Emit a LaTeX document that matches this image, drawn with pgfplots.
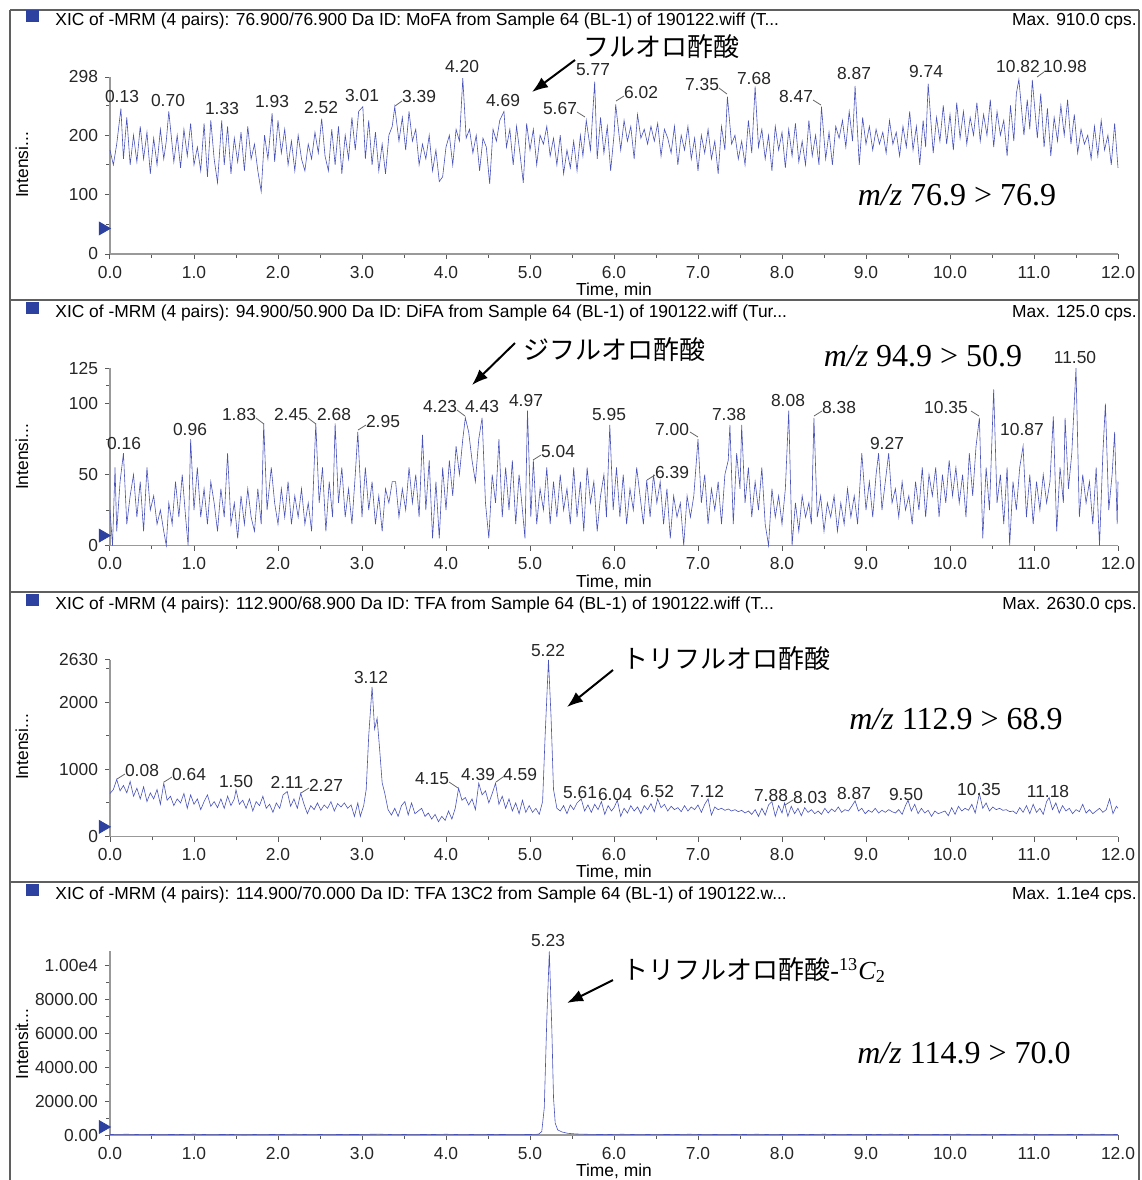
\documentclass[border=0pt]{standalone}
\usepackage{pgfplots}
\usepackage{pgfplotstable}
\pgfplotsset{compat=1.18}
\usetikzlibrary{arrows.meta}
\usepackage{fontspec}
\setmainfont{Liberation Sans}
\newfontfamily\jp{Noto Sans CJK JP}
\newfontfamily\tnr{Liberation Serif}
\definecolor{plotblue}{RGB}{72,82,185}
\definecolor{markblue}{RGB}{45,65,160}
\definecolor{framegray}{RGB}{95,95,95}
\newcommand\lblfont{\fontsize{8.7}{10}\selectfont}

\pgfplotstableread[row sep=\\]{x y\\
0.00 175\\ 0.04 150\\ 0.08 185\\ 0.13 245\\ 0.16 160\\ 0.20 230\\ 0.24 150\\ 0.28 200\\ 0.32 155\\ 0.36 215\\ 0.40 160\\ 0.44 205\\ 0.48 135\\ 0.52 195\\ 0.56 150\\ 0.60 210\\ 0.64 160\\ 0.67 190\\ 0.70 240\\ 0.76 155\\ 0.80 200\\ 0.84 145\\ 0.88 210\\ 0.92 165\\ 0.96 220\\
1.00 150\\ 1.04 180\\ 1.08 140\\ 1.12 220\\ 1.16 130\\ 1.20 225\\ 1.24 160\\ 1.28 120\\ 1.33 225\\ 1.36 150\\ 1.40 215\\ 1.44 135\\ 1.48 195\\ 1.52 155\\ 1.56 205\\ 1.60 140\\ 1.64 215\\ 1.68 160\\ 1.72 185\\ 1.76 140\\ 1.80 105\\ 1.84 200\\ 1.88 160\\ 1.93 237\\ 1.96 155\\
2.00 225\\ 2.04 170\\ 2.08 210\\ 2.12 150\\ 2.16 190\\ 2.20 140\\ 2.24 200\\ 2.28 160\\ 2.32 140\\ 2.36 185\\ 2.40 160\\ 2.44 205\\ 2.48 170\\ 2.52 228\\ 2.56 165\\ 2.60 140\\ 2.64 210\\ 2.68 150\\ 2.72 215\\ 2.76 135\\ 2.80 200\\ 2.84 160\\ 2.88 230\\ 2.92 175\\ 2.96 240\\
3.01 248\\ 3.04 160\\ 3.08 225\\ 3.12 150\\ 3.16 205\\ 3.20 140\\ 3.24 185\\ 3.28 135\\ 3.32 200\\ 3.36 215\\ 3.39 248\\ 3.44 190\\ 3.48 230\\ 3.52 175\\ 3.56 240\\ 3.60 190\\ 3.64 210\\ 3.68 150\\ 3.72 185\\ 3.76 160\\ 3.80 200\\ 3.84 140\\ 3.88 175\\ 3.92 122\\ 3.96 130\\
4.00 180\\ 4.04 200\\ 4.08 150\\ 4.12 210\\ 4.16 190\\ 4.20 296\\ 4.24 195\\ 4.28 210\\ 4.32 170\\ 4.36 200\\ 4.40 140\\ 4.44 195\\ 4.48 180\\ 4.52 118\\ 4.56 210\\ 4.60 190\\ 4.64 225\\ 4.69 240\\ 4.72 180\\ 4.76 210\\ 4.80 150\\ 4.84 215\\ 4.88 170\\ 4.92 120\\ 4.96 220\\
5.00 175\\ 5.04 210\\ 5.08 150\\ 5.12 200\\ 5.16 185\\ 5.20 215\\ 5.24 165\\ 5.28 195\\ 5.32 150\\ 5.36 200\\ 5.40 135\\ 5.44 175\\ 5.48 145\\ 5.52 190\\ 5.56 140\\ 5.60 200\\ 5.63 165\\ 5.67 225\\ 5.72 175\\ 5.77 290\\ 5.80 160\\ 5.84 230\\ 5.88 170\\ 5.92 215\\ 5.96 140\\
6.00 200\\ 6.02 252\\ 6.08 175\\ 6.12 225\\ 6.16 190\\ 6.20 215\\ 6.24 160\\ 6.28 235\\ 6.32 195\\ 6.36 210\\ 6.40 185\\ 6.44 215\\ 6.48 190\\ 6.52 220\\ 6.56 165\\ 6.60 210\\ 6.64 195\\ 6.68 170\\ 6.72 215\\ 6.76 150\\ 6.80 200\\ 6.84 175\\ 6.88 215\\ 6.92 160\\ 6.96 195\\
7.00 140\\ 7.04 200\\ 7.08 170\\ 7.12 210\\ 7.16 160\\ 7.20 190\\ 7.24 135\\ 7.28 215\\ 7.32 175\\ 7.35 265\\ 7.40 185\\ 7.44 200\\ 7.48 160\\ 7.52 190\\ 7.56 150\\ 7.60 225\\ 7.64 170\\ 7.68 282\\ 7.72 180\\ 7.76 210\\ 7.80 160\\ 7.84 200\\ 7.88 140\\ 7.92 215\\ 7.96 175\\
8.00 205\\ 8.04 145\\ 8.08 210\\ 8.12 165\\ 8.16 220\\ 8.20 155\\ 8.24 190\\ 8.28 150\\ 8.32 225\\ 8.36 165\\ 8.40 200\\ 8.44 150\\ 8.47 248\\ 8.52 160\\ 8.56 205\\ 8.60 150\\ 8.64 215\\ 8.68 195\\ 8.72 225\\ 8.76 180\\ 8.80 240\\ 8.84 190\\ 8.87 283\\ 8.92 150\\ 8.96 230\\
9.00 185\\ 9.04 215\\ 9.08 175\\ 9.12 210\\ 9.16 185\\ 9.20 205\\ 9.24 170\\ 9.28 225\\ 9.32 185\\ 9.36 205\\ 9.40 165\\ 9.44 215\\ 9.48 180\\ 9.52 240\\ 9.56 175\\ 9.60 215\\ 9.64 150\\ 9.68 225\\ 9.71 180\\ 9.74 287\\ 9.80 170\\ 9.84 230\\ 9.88 190\\ 9.92 250\\ 9.96 185\\
10.00 235\\ 10.04 175\\ 10.08 255\\ 10.12 195\\ 10.16 240\\ 10.20 185\\ 10.24 230\\ 10.28 200\\ 10.32 255\\ 10.36 190\\ 10.40 235\\ 10.44 200\\ 10.48 260\\ 10.52 180\\ 10.56 240\\ 10.60 200\\ 10.64 225\\ 10.68 165\\ 10.72 250\\ 10.76 190\\ 10.79 270\\ 10.82 294\\ 10.88 200\\ 10.92 260\\ 10.95 210\\
10.98 293\\ 11.04 195\\ 11.08 270\\ 11.12 180\\ 11.16 245\\ 11.20 165\\ 11.24 230\\ 11.28 190\\ 11.32 250\\ 11.36 200\\ 11.40 260\\ 11.44 185\\ 11.48 235\\ 11.52 170\\ 11.56 210\\ 11.60 185\\ 11.64 200\\ 11.68 160\\ 11.72 215\\ 11.76 165\\ 11.80 225\\ 11.84 175\\ 11.88 200\\ 11.92 150\\ 11.96 220\\ 12.00 145\\
}\mofa

\pgfplotstableread[row sep=\\]{x y\\
0.00 25\\ 0.03 0\\ 0.06 55\\ 0.08 10\\ 0.12 45\\ 0.16 65\\ 0.20 15\\ 0.24 35\\ 0.28 50\\ 0.32 20\\ 0.36 45\\ 0.40 10\\ 0.44 55\\ 0.48 25\\ 0.52 35\\ 0.56 15\\ 0.60 25\\ 0.64 10\\ 0.67 0\\ 0.70 30\\ 0.74 15\\ 0.78 45\\ 0.82 20\\ 0.86 50\\ 0.90 20\\ 0.93 0\\ 0.96 75\\
1.00 25\\ 1.04 55\\ 1.08 20\\ 1.12 40\\ 1.16 15\\ 1.20 45\\ 1.24 30\\ 1.28 10\\ 1.32 40\\ 1.36 20\\ 1.40 65\\ 1.44 15\\ 1.48 30\\ 1.52 5\\ 1.56 35\\ 1.60 15\\ 1.64 40\\ 1.68 20\\ 1.72 10\\ 1.76 40\\ 1.80 15\\ 1.83 86\\ 1.87 25\\ 1.92 55\\ 1.96 30\\
2.00 15\\ 2.04 40\\ 2.08 20\\ 2.12 45\\ 2.16 15\\ 2.20 35\\ 2.24 20\\ 2.28 40\\ 2.32 15\\ 2.36 30\\ 2.40 10\\ 2.45 86\\ 2.49 30\\ 2.53 55\\ 2.57 10\\ 2.61 45\\ 2.65 20\\ 2.68 86\\ 2.72 30\\ 2.76 55\\ 2.80 20\\ 2.84 40\\ 2.88 15\\ 2.92 50\\ 2.95 80\\
3.00 20\\ 3.04 55\\ 3.08 25\\ 3.12 45\\ 3.16 15\\ 3.20 35\\ 3.24 10\\ 3.28 40\\ 3.32 30\\ 3.36 45\\ 3.40 45\\ 3.44 20\\ 3.48 40\\ 3.52 25\\ 3.56 55\\ 3.60 30\\ 3.64 50\\ 3.68 20\\ 3.72 78\\ 3.76 25\\ 3.80 60\\ 3.84 5\\ 3.88 45\\ 3.92 5\\ 3.96 55\\
4.00 25\\ 4.04 60\\ 4.08 35\\ 4.12 70\\ 4.16 50\\ 4.20 75\\ 4.23 90\\ 4.27 80\\ 4.31 60\\ 4.35 45\\ 4.39 75\\ 4.43 90\\ 4.47 30\\ 4.51 5\\ 4.55 50\\ 4.59 30\\ 4.63 75\\ 4.67 20\\ 4.71 55\\ 4.75 25\\ 4.79 60\\ 4.83 15\\ 4.87 50\\ 4.91 25\\ 4.94 5\\ 4.97 95\\
5.01 20\\ 5.04 60\\ 5.08 15\\ 5.12 40\\ 5.16 25\\ 5.20 55\\ 5.24 15\\ 5.28 45\\ 5.32 20\\ 5.36 50\\ 5.40 25\\ 5.44 40\\ 5.48 15\\ 5.52 55\\ 5.56 20\\ 5.60 45\\ 5.64 10\\ 5.68 55\\ 5.72 30\\ 5.76 45\\ 5.80 10\\ 5.84 35\\ 5.88 50\\ 5.91 20\\ 5.95 85\\
5.99 25\\ 6.03 55\\ 6.07 20\\ 6.11 50\\ 6.15 15\\ 6.19 40\\ 6.23 25\\ 6.27 55\\ 6.31 35\\ 6.35 15\\ 6.39 46\\ 6.43 20\\ 6.47 50\\ 6.51 30\\ 6.55 45\\ 6.59 15\\ 6.63 40\\ 6.67 5\\ 6.71 35\\ 6.75 20\\ 6.79 30\\ 6.83 0\\ 6.87 35\\ 6.91 20\\ 6.95 35\\ 7.00 75\\
7.04 30\\ 7.08 50\\ 7.12 15\\ 7.16 40\\ 7.20 25\\ 7.24 45\\ 7.28 15\\ 7.32 50\\ 7.36 60\\ 7.38 85\\ 7.42 15\\ 7.46 65\\ 7.50 40\\ 7.52 85\\ 7.56 30\\ 7.60 55\\ 7.64 20\\ 7.68 45\\ 7.72 25\\ 7.76 55\\ 7.80 15\\ 7.84 0\\ 7.88 40\\ 7.92 20\\ 7.96 35\\
8.00 15\\ 8.04 40\\ 8.08 95\\ 8.12 0\\ 8.16 30\\ 8.20 10\\ 8.24 35\\ 8.28 20\\ 8.32 30\\ 8.35 15\\ 8.38 90\\ 8.42 20\\ 8.46 35\\ 8.50 10\\ 8.54 30\\ 8.58 20\\ 8.62 35\\ 8.66 10\\ 8.70 30\\ 8.74 15\\ 8.78 40\\ 8.82 20\\ 8.86 35\\ 8.90 15\\ 8.95 65\\
9.00 25\\ 9.04 45\\ 9.08 20\\ 9.12 50\\ 9.15 65\\ 9.19 25\\ 9.23 45\\ 9.27 65\\ 9.31 30\\ 9.35 40\\ 9.39 20\\ 9.43 45\\ 9.47 25\\ 9.51 35\\ 9.55 15\\ 9.59 45\\ 9.63 25\\ 9.67 55\\ 9.71 20\\ 9.75 50\\ 9.79 35\\ 9.83 55\\ 9.87 20\\ 9.91 50\\ 9.95 30\\
9.99 60\\ 10.03 35\\ 10.07 55\\ 10.11 30\\ 10.15 50\\ 10.19 20\\ 10.23 65\\ 10.27 35\\ 10.31 70\\ 10.35 90\\ 10.39 5\\ 10.43 55\\ 10.47 25\\ 10.52 110\\ 10.56 30\\ 10.60 50\\ 10.64 15\\ 10.68 55\\ 10.71 0\\ 10.75 45\\ 10.79 25\\ 10.83 55\\ 10.87 70\\ 10.91 20\\ 10.95 50\\
10.99 15\\ 11.03 45\\ 11.07 25\\ 11.11 50\\ 11.15 30\\ 11.19 45\\ 11.23 91\\ 11.27 10\\ 11.31 55\\ 11.35 30\\ 11.37 90\\ 11.41 40\\ 11.45 65\\ 11.50 125\\ 11.54 20\\ 11.58 50\\ 11.62 30\\ 11.66 45\\ 11.70 15\\ 11.74 55\\ 11.78 0\\ 11.82 65\\ 11.85 100\\ 11.89 25\\ 11.93 50\\ 11.96 80\\ 11.99 15\\ 12.00 45\\
}\difa

\pgfplotstableread[row sep=\\]{x y\\
0.00 640\\ 0.04 700\\ 0.08 850\\ 0.12 680\\ 0.16 760\\ 0.20 650\\ 0.24 820\\ 0.28 600\\ 0.32 720\\ 0.36 560\\ 0.40 740\\ 0.44 520\\ 0.48 650\\ 0.52 560\\ 0.56 700\\ 0.60 480\\ 0.64 794\\ 0.68 540\\ 0.72 600\\ 0.76 460\\ 0.80 560\\ 0.84 500\\ 0.88 640\\ 0.92 420\\ 0.96 620\\
1.00 480\\ 1.04 560\\ 1.08 400\\ 1.12 520\\ 1.16 620\\ 1.20 450\\ 1.24 520\\ 1.28 430\\ 1.32 560\\ 1.36 420\\ 1.40 600\\ 1.44 460\\ 1.48 560\\ 1.50 695\\ 1.54 480\\ 1.58 540\\ 1.62 420\\ 1.66 560\\ 1.70 380\\ 1.74 520\\ 1.78 460\\ 1.82 600\\ 1.86 420\\ 1.90 480\\ 1.94 360\\
1.98 500\\ 2.02 420\\ 2.06 620\\ 2.11 670\\ 2.15 450\\ 2.19 560\\ 2.23 420\\ 2.27 645\\ 2.31 480\\ 2.35 340\\ 2.39 460\\ 2.43 400\\ 2.47 500\\ 2.51 390\\ 2.55 470\\ 2.59 420\\ 2.63 520\\ 2.67 380\\ 2.71 490\\ 2.75 440\\ 2.79 500\\ 2.83 420\\ 2.87 470\\ 2.91 300\\ 2.95 500\\
2.98 300\\ 3.02 460\\ 3.05 700\\ 3.08 1500\\ 3.12 2230\\ 3.15 1600\\ 3.18 1760\\ 3.21 1300\\ 3.24 800\\ 3.27 650\\ 3.31 400\\ 3.35 320\\ 3.39 420\\ 3.43 300\\ 3.47 460\\ 3.51 520\\ 3.55 320\\ 3.59 500\\ 3.63 340\\ 3.67 380\\ 3.71 420\\ 3.75 300\\ 3.79 350\\ 3.83 260\\ 3.87 330\\ 3.91 220\\
3.95 300\\ 3.99 240\\ 4.03 380\\ 4.07 260\\ 4.11 420\\ 4.15 720\\ 4.19 540\\ 4.23 580\\ 4.27 470\\ 4.31 560\\ 4.35 400\\ 4.39 794\\ 4.43 620\\ 4.47 680\\ 4.51 500\\ 4.55 640\\ 4.59 794\\ 4.63 480\\ 4.67 600\\ 4.71 420\\ 4.75 560\\ 4.79 380\\ 4.83 500\\ 4.87 340\\ 4.91 540\\ 4.95 360\\
4.99 460\\ 5.03 360\\ 5.07 420\\ 5.11 330\\ 5.15 520\\ 5.18 1500\\ 5.22 2630\\ 5.25 1800\\ 5.28 700\\ 5.32 420\\ 5.36 380\\ 5.40 460\\ 5.44 340\\ 5.48 470\\ 5.52 400\\ 5.56 500\\ 5.61 560\\ 5.65 380\\ 5.69 470\\ 5.73 360\\ 5.77 480\\ 5.81 400\\ 5.85 520\\ 5.89 330\\ 5.93 460\\
5.97 380\\ 6.00 430\\ 6.04 540\\ 6.08 300\\ 6.12 420\\ 6.16 350\\ 6.20 460\\ 6.24 380\\ 6.28 440\\ 6.32 340\\ 6.36 460\\ 6.40 400\\ 6.44 490\\ 6.48 370\\ 6.52 560\\ 6.56 430\\ 6.60 480\\ 6.64 380\\ 6.68 450\\ 6.72 400\\ 6.76 430\\ 6.80 370\\ 6.84 460\\ 6.88 380\\ 6.92 440\\
6.96 400\\ 7.00 470\\ 7.04 360\\ 7.08 480\\ 7.12 560\\ 7.16 320\\ 7.20 440\\ 7.24 400\\ 7.28 420\\ 7.32 390\\ 7.36 410\\ 7.40 380\\ 7.44 400\\ 7.48 370\\ 7.52 390\\ 7.56 350\\ 7.60 380\\ 7.64 330\\ 7.68 400\\ 7.72 300\\ 7.76 420\\ 7.80 320\\ 7.84 470\\ 7.88 520\\ 7.92 300\\
7.96 460\\ 8.00 350\\ 8.03 500\\ 8.07 300\\ 8.11 450\\ 8.15 340\\ 8.19 420\\ 8.23 310\\ 8.27 430\\ 8.31 360\\ 8.35 400\\ 8.39 340\\ 8.43 380\\ 8.47 330\\ 8.51 420\\ 8.55 350\\ 8.59 410\\ 8.63 370\\ 8.67 440\\ 8.71 360\\ 8.75 400\\ 8.79 380\\ 8.83 450\\ 8.87 530\\ 8.91 380\\
8.95 420\\ 8.99 340\\ 9.03 390\\ 9.07 360\\ 9.11 420\\ 9.15 350\\ 9.19 390\\ 9.23 360\\ 9.27 400\\ 9.31 370\\ 9.35 350\\ 9.39 400\\ 9.43 330\\ 9.47 460\\ 9.50 540\\ 9.54 380\\ 9.58 480\\ 9.62 340\\ 9.66 420\\ 9.70 350\\ 9.74 390\\ 9.78 300\\ 9.82 380\\ 9.86 340\\ 9.90 360\\
9.94 380\\ 9.98 310\\ 10.02 430\\ 10.06 330\\ 10.10 450\\ 10.14 380\\ 10.18 420\\ 10.22 390\\ 10.26 480\\ 10.30 350\\ 10.35 640\\ 10.39 420\\ 10.43 500\\ 10.47 380\\ 10.51 440\\ 10.55 400\\ 10.59 420\\ 10.63 390\\ 10.67 400\\ 10.71 370\\ 10.75 380\\ 10.79 340\\ 10.83 430\\ 10.87 360\\ 10.91 460\\
10.95 340\\ 10.99 480\\ 11.03 360\\ 11.07 420\\ 11.11 330\\ 11.15 520\\ 11.18 580\\ 11.22 400\\ 11.26 500\\ 11.30 350\\ 11.34 460\\ 11.38 380\\ 11.42 420\\ 11.46 340\\ 11.50 400\\ 11.54 370\\ 11.58 480\\ 11.62 350\\ 11.66 400\\ 11.70 340\\ 11.74 380\\ 11.78 420\\ 11.82 360\\ 11.86 400\\ 11.90 560\\ 11.94 340\\ 11.98 450\\ 12.00 420\\
}\tfa

\pgfplotstableread[row sep=\\]{x y\\
0.00 30\\ 0.20 45\\ 0.40 20\\ 0.60 40\\ 0.80 25\\ 1.00 45\\ 1.20 20\\ 1.40 35\\ 1.60 15\\ 1.80 40\\ 2.00 25\\ 2.20 45\\ 2.40 20\\ 2.60 40\\ 2.80 25\\ 3.00 35\\ 3.20 50\\ 3.40 20\\ 3.60 40\\ 3.80 25\\ 4.00 45\\ 4.20 20\\ 4.40 40\\ 4.60 25\\ 4.80 40\\ 5.00 30\\ 5.10 45\\ 5.14 200\\ 5.17 1600\\ 5.20 6800\\ 5.23 10800\\ 5.26 6200\\ 5.28 2200\\ 5.30 700\\ 5.33 300\\ 5.38 180\\ 5.45 100\\ 5.55 60\\ 5.70 40\\ 5.90 25\\ 6.10 45\\ 6.30 20\\ 6.50 40\\ 6.70 25\\ 6.90 45\\ 7.10 20\\ 7.30 40\\ 7.50 25\\ 7.70 45\\ 7.90 20\\ 8.10 40\\ 8.30 25\\ 8.50 45\\ 8.70 20\\ 8.90 40\\ 9.10 25\\ 9.30 45\\ 9.50 20\\ 9.70 40\\ 9.90 25\\ 10.10 45\\ 10.30 20\\ 10.50 40\\ 10.70 25\\ 10.90 45\\ 11.10 20\\ 11.30 40\\ 11.50 25\\ 11.70 45\\ 11.90 20\\ 12.00 35\\
}\tfac

\pgfplotsset{chrom/.style={
  scale only axis, width=504pt, anchor=south west,
  xmin=0, xmax=12, ymin=0,
  axis x line=bottom, axis y line=left,
  axis line style={-, draw=black!40, line width=0.8pt},
  tick align=outside, major tick length=2.5pt, minor tick length=1.8pt,
  tick style={draw=black!65, line width=0.5pt},
  xtick={0,1,2,3,4,5,6,7,8,9,10,11,12},
  xticklabels={0.0,1.0,2.0,3.0,4.0,5.0,6.0,7.0,8.0,9.0,10.0,11.0,12.0},
  minor xtick={0.5,1.5,2.5,3.5,4.5,5.5,6.5,7.5,8.5,9.5,10.5,11.5},
  tick label style={font=\lblfont, text=black!85},
  scaled y ticks=false, scaled x ticks=false,
  clip=false,
}}
\newcommand\pk[3]{\node[font=\lblfont, text=black!85, inner sep=0pt] at (#1,#2) {#3};}
\newcommand\ldr[4]{\draw[black!60, line width=0.4pt] (#1,#2) -- (#3,#4);}
\newcommand\trimark[1]{\addplot[only marks, mark=triangle*, mark size=3.7pt, mark options={rotate=-90, fill=markblue, draw=markblue}] coordinates {(-0.085,#1)};}

\begin{document}
\begin{tikzpicture}
\path[use as bounding box] (0,0) rectangle (571pt,-590pt);

\begin{axis}[chrom, at={(55pt,-127pt)}, height=88.5pt, ymax=298,
  ytick={0,100,200,298}, yticklabels={0,100,200,298}, minor ytick={50,150,250}]
\addplot[line width=0.3pt, plotblue] table[x=x,y=y] {\mofa};
\trimark{43}
\end{axis}

\begin{axis}[chrom, at={(55pt,-272.75pt)}, height=88.7pt, ymax=125,
  ytick={0,50,100,125}, yticklabels={0,50,100,125}, minor ytick={25,75,112.5}]
\addplot[line width=0.3pt, plotblue] table[x=x,y=y] {\difa};
\trimark{7}
\end{axis}

\begin{axis}[chrom, at={(55pt,-418.25pt)}, height=88.3pt, ymax=2630,
  ytick={0,1000,2000,2630}, yticklabels={0,1000,2000,2630}, minor ytick={500,1500,2500}]
\addplot[line width=0.3pt, plotblue] table[x=x,y=y] {\tfa};
\trimark{144}
\end{axis}

\begin{axis}[chrom, at={(55pt,-567.5pt)}, height=92.2pt, ymax=10850,
  ytick={0,2000,4000,6000,8000,10000},
  yticklabels={0.00,2000.00,4000.00,6000.00,8000.00,1.00e4},
  minor ytick={1000,3000,5000,7000,9000}]
\addplot[line width=0.3pt, plotblue] table[x=x,y=y] {\tfac};
\trimark{470}
\end{axis}

\begin{scope}[x=0.5pt,y=-0.5pt]
% frames
\draw[framegray, line width=1pt] (10,10) -- (1139,10);
\draw[framegray, line width=1pt] (10,300) -- (1139,300);
\draw[framegray, line width=1pt] (10,592) -- (1139,592);
\draw[framegray, line width=1pt] (10,882) -- (1139,882);
\draw[framegray, line width=1pt] (10,10) -- (10,1180);
\draw[framegray, line width=1pt] (1139,10) -- (1139,1180);

% titles
\foreach \yy in {0,292,584,874} {
  \fill[markblue] (26,10+\yy) rectangle (39,22+\yy);
}
\node[anchor=base west, font=\lblfont, inner sep=0pt] at (55,25.5) {XIC of -MRM (4 pairs): 76.900/76.900 Da ID: MoFA from Sample 64 (BL-1) of 190122.wiff (T...};
\node[anchor=base east, font=\lblfont, inner sep=0pt] at (1137,25.5) {Max. 910.0 cps.};
\node[anchor=base west, font=\lblfont, inner sep=0pt] at (55,317.5) {XIC of -MRM (4 pairs): 94.900/50.900 Da ID: DiFA from Sample 64 (BL-1) of 190122.wiff (Tur...};
\node[anchor=base east, font=\lblfont, inner sep=0pt] at (1137,317.5) {Max. 125.0 cps.};
\node[anchor=base west, font=\lblfont, inner sep=0pt] at (55,609.5) {XIC of -MRM (4 pairs): 112.900/68.900 Da ID: TFA from Sample 64 (BL-1) of 190122.wiff (T...};
\node[anchor=base east, font=\lblfont, inner sep=0pt] at (1137,609.5) {Max. 2630.0 cps.};
\node[anchor=base west, font=\lblfont, inner sep=0pt] at (55,899.5) {XIC of -MRM (4 pairs): 114.900/70.000 Da ID: TFA 13C2 from Sample 64 (BL-1) of 190122.w...};
\node[anchor=base east, font=\lblfont, inner sep=0pt] at (1137,899.5) {Max. 1.1e4 cps.};

% axis labels
\node[rotate=90, font=\lblfont] at (22,165) {Intensi...};
\node[rotate=90, font=\lblfont] at (22,457) {Intensi...};
\node[rotate=90, font=\lblfont] at (22,747) {Intensi...};
\node[rotate=90, font=\lblfont] at (22,1044) {Intensit...};
\node[font=\lblfont] at (614,290) {Time, min};
\node[font=\lblfont] at (614,582) {Time, min};
\node[font=\lblfont] at (614,872) {Time, min};
\node[font=\lblfont] at (614,1171) {Time, min};

% peak labels panel 1
\pk{122}{97}{0.13} \pk{168}{101}{0.70} \pk{222}{109}{1.33} \pk{272}{102}{1.93}
\pk{321}{108}{2.52} \pk{362}{96}{3.01} \pk{419}{97}{3.39} \pk{462}{67}{4.20}
\pk{503}{101}{4.69} \pk{560}{109}{5.67} \pk{593}{70}{5.77} \pk{641}{93}{6.02}
\pk{702}{85}{7.35} \pk{754}{79}{7.68} \pk{796}{97}{8.47} \pk{854}{74}{8.87}
\pk{926}{72}{9.74} \pk{1018}{67}{10.82} \pk{1065}{67}{10.98}
\ldr{395}{106}{402}{101} \ldr{577}{112}{585}{117} \ldr{616}{101}{624}{96}
\ldr{719}{88}{727}{94} \ldr{813}{100}{821}{105} \ldr{1037}{77}{1044}{72}

% peak labels panel 2
\pk{124}{443}{0.16} \pk{190}{429}{0.96} \pk{239}{415}{1.83} \pk{291}{415}{2.45}
\pk{334}{415}{2.68} \pk{383}{422}{2.95} \pk{440}{407}{4.23} \pk{482}{407}{4.43}
\pk{526}{401}{4.97} \pk{558}{451}{5.04} \pk{609}{415}{5.95} \pk{672}{429}{7.00}
\pk{672}{472}{6.39} \pk{729}{415}{7.38} \pk{788}{401}{8.08} \pk{839}{408}{8.38}
\pk{887}{443}{9.27} \pk{946}{408}{10.35} \pk{1022}{429}{10.87} \pk{1075}{358}{11.50}
\ldr{256}{418}{264}{424} \ldr{308}{418}{316}{424} \ldr{358}{430}{366}{425}
\ldr{457}{410}{465}{416} \ldr{533}{460}{541}{455} \ldr{690}{432}{698}{437}
\ldr{647}{480}{655}{475} \ldr{814}{416}{822}{411} \ldr{971}{411}{979}{416}

% peak labels panel 3
\pk{142}{770}{0.08} \pk{189}{774}{0.64} \pk{236}{781}{1.50} \pk{287}{782}{2.11}
\pk{326}{785}{2.27} \pk{371}{677}{3.12} \pk{432}{779}{4.15} \pk{478}{774}{4.39}
\pk{520}{774}{4.59} \pk{548}{650}{5.22} \pk{580}{792}{5.61} \pk{615}{794}{6.04}
\pk{657}{791}{6.52} \pk{707}{791}{7.12} \pk{771}{795}{7.88} \pk{810}{797}{8.03}
\pk{854}{793}{8.87} \pk{906}{794}{9.50} \pk{979}{789}{10.35} \pk{1048}{791}{11.18}
\ldr{117}{779}{125}{774} \ldr{164}{782}{172}{777} \ldr{301}{793}{309}{788}
\ldr{449}{782}{458}{788} \ldr{496}{782}{503}{777} \ldr{785}{805}{793}{800}

% peak label panel 4
\pk{548}{940}{5.23}

% compound annotations
\node[anchor=west, font=\jp\fontsize{13}{15}\selectfont, inner sep=0pt] at (583,47) {フルオロ酢酸};
\node[anchor=west, font=\jp\fontsize{13}{15}\selectfont, inner sep=0pt] at (523,350) {ジフルオロ酢酸};
\node[anchor=west, font=\jp\fontsize{13}{15}\selectfont, inner sep=0pt] at (622,659) {トリフルオロ酢酸};
\node[anchor=west, inner sep=0pt] at (622,970) {{\jp\fontsize{13}{15}\selectfont トリフルオロ酢酸}{\tnr\fontsize{13}{15}\selectfont -\textsuperscript{13}\textit{C}\textsubscript{2}}};

\draw[-{Latex[length=8pt,width=6pt]}, line width=1pt] (575,60) -- (532,92);
\draw[-{Latex[length=8pt,width=6pt]}, line width=1pt] (515,343) -- (472,385);
\draw[-{Latex[length=8pt,width=6pt]}, line width=1pt] (613,670) -- (567,707);
\draw[-{Latex[length=8pt,width=6pt]}, line width=1pt] (613,980) -- (567,1003);

\node[font=\tnr\fontsize{16}{18}\selectfont, inner sep=0pt] at (957,195) {\textit{m/z} 76.9 > 76.9};
\node[font=\tnr\fontsize{16}{18}\selectfont, inner sep=0pt] at (923,356) {\textit{m/z} 94.9 > 50.9};
\node[font=\tnr\fontsize{16}{18}\selectfont, inner sep=0pt] at (956,719) {\textit{m/z} 112.9 > 68.9};
\node[font=\tnr\fontsize{16}{18}\selectfont, inner sep=0pt] at (964,1053) {\textit{m/z} 114.9 > 70.0};
\end{scope}
\end{tikzpicture}
\end{document}
